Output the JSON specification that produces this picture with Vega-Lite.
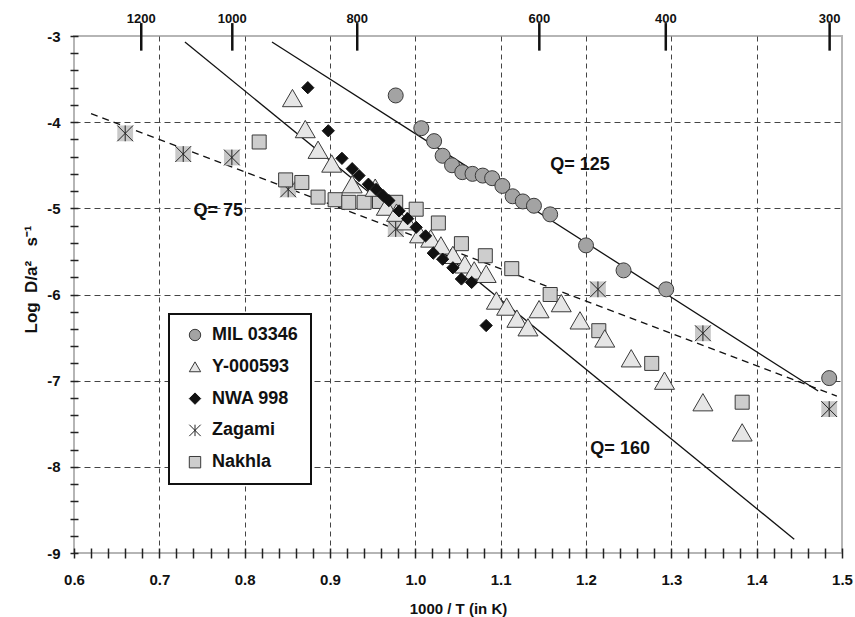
{
  "$schema": "https://vega.github.io/schema/vega-lite/v6.json",
  "width": 768,
  "height": 517,
  "autosize": {"type": "none"},
  "padding": {"left": 74, "top": 36, "right": 13, "bottom": 64},
  "config": {
    "font": "Liberation Sans",
    "view": {"stroke": "#b5b5b5", "strokeWidth": 2},
    "legend": {
      "fillColor": "white",
      "strokeColor": "#111",
      "strokeWidth": 2,
      "padding": 12,
      "symbolOffset": 5,
      "labelOffset": 8,
      "labelFontSize": 18,
      "labelFontWeight": "bold",
      "labelColor": "#111",
      "rowPadding": 13.8,
      "symbolSize": 130,
      "symbolStrokeWidth": 1
    }
  },
  "datasets": {
    "pts": [
      {"s": "MIL 03346", "x": 0.977, "y": -3.69},
      {"s": "MIL 03346", "x": 1.007, "y": -4.07},
      {"s": "MIL 03346", "x": 1.022, "y": -4.22},
      {"s": "MIL 03346", "x": 1.032, "y": -4.39},
      {"s": "MIL 03346", "x": 1.043, "y": -4.5},
      {"s": "MIL 03346", "x": 1.055, "y": -4.58},
      {"s": "MIL 03346", "x": 1.067, "y": -4.6},
      {"s": "MIL 03346", "x": 1.079, "y": -4.62},
      {"s": "MIL 03346", "x": 1.09, "y": -4.65},
      {"s": "MIL 03346", "x": 1.102, "y": -4.74},
      {"s": "MIL 03346", "x": 1.114, "y": -4.86},
      {"s": "MIL 03346", "x": 1.126, "y": -4.92},
      {"s": "MIL 03346", "x": 1.139, "y": -4.97},
      {"s": "MIL 03346", "x": 1.158, "y": -5.07},
      {"s": "MIL 03346", "x": 1.2, "y": -5.43},
      {"s": "MIL 03346", "x": 1.244, "y": -5.72},
      {"s": "MIL 03346", "x": 1.294, "y": -5.94},
      {"s": "MIL 03346", "x": 1.485, "y": -6.97},
      {"s": "Y-000593", "x": 0.856, "y": -3.72},
      {"s": "Y-000593", "x": 0.871, "y": -4.08},
      {"s": "Y-000593", "x": 0.886, "y": -4.32},
      {"s": "Y-000593", "x": 0.902, "y": -4.48},
      {"s": "Y-000593", "x": 0.926, "y": -4.72},
      {"s": "Y-000593", "x": 0.953, "y": -4.76},
      {"s": "Y-000593", "x": 0.966, "y": -4.98},
      {"s": "Y-000593", "x": 0.978, "y": -5.05},
      {"s": "Y-000593", "x": 0.99, "y": -5.15},
      {"s": "Y-000593", "x": 1.005, "y": -5.3},
      {"s": "Y-000593", "x": 1.018, "y": -5.35},
      {"s": "Y-000593", "x": 1.03, "y": -5.43},
      {"s": "Y-000593", "x": 1.044, "y": -5.54},
      {"s": "Y-000593", "x": 1.058, "y": -5.65},
      {"s": "Y-000593", "x": 1.069, "y": -5.72},
      {"s": "Y-000593", "x": 1.083, "y": -5.76},
      {"s": "Y-000593", "x": 1.095, "y": -6.07},
      {"s": "Y-000593", "x": 1.107, "y": -6.14},
      {"s": "Y-000593", "x": 1.119, "y": -6.28},
      {"s": "Y-000593", "x": 1.132, "y": -6.38},
      {"s": "Y-000593", "x": 1.145, "y": -6.17},
      {"s": "Y-000593", "x": 1.171, "y": -6.1},
      {"s": "Y-000593", "x": 1.193, "y": -6.3},
      {"s": "Y-000593", "x": 1.222, "y": -6.51},
      {"s": "Y-000593", "x": 1.253, "y": -6.74},
      {"s": "Y-000593", "x": 1.292, "y": -7.0},
      {"s": "Y-000593", "x": 1.337, "y": -7.25},
      {"s": "Y-000593", "x": 1.383, "y": -7.6},
      {"s": "NWA 998", "x": 0.874, "y": -3.6},
      {"s": "NWA 998", "x": 0.898, "y": -4.1},
      {"s": "NWA 998", "x": 0.914, "y": -4.42},
      {"s": "NWA 998", "x": 0.926, "y": -4.54},
      {"s": "NWA 998", "x": 0.934, "y": -4.62},
      {"s": "NWA 998", "x": 0.945, "y": -4.72},
      {"s": "NWA 998", "x": 0.954, "y": -4.78},
      {"s": "NWA 998", "x": 0.962, "y": -4.85},
      {"s": "NWA 998", "x": 0.969, "y": -4.91},
      {"s": "NWA 998", "x": 0.981, "y": -5.03},
      {"s": "NWA 998", "x": 0.991, "y": -5.12},
      {"s": "NWA 998", "x": 1.001, "y": -5.22},
      {"s": "NWA 998", "x": 1.012, "y": -5.32},
      {"s": "NWA 998", "x": 1.021, "y": -5.52},
      {"s": "NWA 998", "x": 1.032, "y": -5.59},
      {"s": "NWA 998", "x": 1.044, "y": -5.69},
      {"s": "NWA 998", "x": 1.054, "y": -5.82},
      {"s": "NWA 998", "x": 1.066, "y": -5.86},
      {"s": "NWA 998", "x": 1.083, "y": -6.36},
      {"s": "Zagami", "x": 0.66, "y": -4.13},
      {"s": "Zagami", "x": 0.728, "y": -4.37},
      {"s": "Zagami", "x": 0.785, "y": -4.41},
      {"s": "Zagami", "x": 0.851, "y": -4.78},
      {"s": "Zagami", "x": 0.977, "y": -5.24},
      {"s": "Zagami", "x": 1.214, "y": -5.94},
      {"s": "Zagami", "x": 1.337, "y": -6.45},
      {"s": "Zagami", "x": 1.485, "y": -7.33},
      {"s": "Nakhla", "x": 0.817, "y": -4.23},
      {"s": "Nakhla", "x": 0.848, "y": -4.67},
      {"s": "Nakhla", "x": 0.867, "y": -4.7},
      {"s": "Nakhla", "x": 0.886, "y": -4.87},
      {"s": "Nakhla", "x": 0.906, "y": -4.9},
      {"s": "Nakhla", "x": 0.922, "y": -4.93},
      {"s": "Nakhla", "x": 0.94, "y": -4.93},
      {"s": "Nakhla", "x": 0.958, "y": -4.92},
      {"s": "Nakhla", "x": 0.977, "y": -4.93},
      {"s": "Nakhla", "x": 1.001, "y": -5.01},
      {"s": "Nakhla", "x": 1.027, "y": -5.17},
      {"s": "Nakhla", "x": 1.054, "y": -5.41},
      {"s": "Nakhla", "x": 1.082, "y": -5.55},
      {"s": "Nakhla", "x": 1.113, "y": -5.7},
      {"s": "Nakhla", "x": 1.158, "y": -6.0},
      {"s": "Nakhla", "x": 1.215, "y": -6.42},
      {"s": "Nakhla", "x": 1.277, "y": -6.8},
      {"s": "Nakhla", "x": 1.383, "y": -7.25}
    ],
    "lines": [
      {"q": "Q125", "x": 0.832, "y": -3.07},
      {"q": "Q125", "x": 1.472, "y": -7.12},
      {"q": "Q160", "x": 0.73, "y": -3.07},
      {"q": "Q160", "x": 1.444, "y": -8.84},
      {"q": "Q75", "x": 0.62, "y": -3.9},
      {"q": "Q75", "x": 1.494, "y": -7.18}
    ],
    "qlabels": [
      {"x": 1.193, "y": -4.5, "t": "Q= 125"},
      {"x": 0.769, "y": -5.03, "t": "Q= 75"},
      {"x": 1.24, "y": -7.79, "t": "Q= 160"}
    ],
    "degc": [
      {"x": 0.6788, "label": "1200"},
      {"x": 0.7855, "label": "1000"},
      {"x": 0.9319, "label": "800"},
      {"x": 1.1453, "label": "600"},
      {"x": 1.2935, "label": "400"},
      {"x": 1.4855, "label": "300"}
    ]
  },
  "layer": [
    {
      "data": {"name": "lines"},
      "transform": [{"filter": "datum.q !== 'Q75'"}],
      "mark": {"type": "line", "color": "#111", "strokeWidth": 1.3},
      "encoding": {
        "x": {
          "field": "x", "type": "quantitative",
          "scale": {"domain": [0.6, 1.5], "nice": false, "zero": false},
          "axis": {
            "values": [0.6,0.62,0.64,0.66,0.68,0.7,0.72,0.74,0.76,0.78,0.8,0.82,0.84,0.86,0.88,0.9,0.92,0.94,0.96,0.98,1,1.02,1.04,1.06,1.08,1.1,1.12,1.14,1.16,1.18,1.2,1.22,1.24,1.26,1.28,1.3,1.32,1.34,1.36,1.38,1.4,1.42,1.44,1.46,1.48,1.5],
            "tickCount": 200,
            "labelExpr": "abs(datum.value*10 - round(datum.value*10)) < 0.001 ? format(datum.value, '.1f') : ''",
            "labelOverlap": false,
            "labelFlush": false,
            "labelFontSize": 15,
            "labelFontWeight": "bold",
            "labelColor": "#111",
            "labelPadding": 14,
            "domain": false,
            "offset": -5,
            "tickSize": 10,
            "tickWidth": 1.5,
            "tickColor": "#222",
            "grid": true,
            "gridColor": "#444",
            "gridWidth": 1,
            "gridDash": [5, 4],
            "gridOpacity": {"condition": {"test": "abs(datum.value*10 - round(datum.value*10)) < 0.001 && datum.value > 0.61 && datum.value < 1.49", "value": 1}, "value": 0},
            "title": "1000 / T  (in K)",
            "titleFontSize": 15,
            "titleFontWeight": "bold",
            "titleColor": "#111",
            "titleY": 60,
            "titleBaseline": "middle"
          }
        },
        "y": {
          "field": "y", "type": "quantitative",
          "scale": {"domain": [-9, -3], "nice": false, "zero": false},
          "axis": {
            "values": [-9,-8.8,-8.6,-8.4,-8.2,-8,-7.8,-7.6,-7.4,-7.2,-7,-6.8,-6.6,-6.4,-6.2,-6,-5.8,-5.6,-5.4,-5.2,-5,-4.8,-4.6,-4.4,-4.2,-4,-3.8,-3.6,-3.4,-3.2,-3],
            "tickCount": 200,
            "labelExpr": "abs(datum.value - round(datum.value)) < 0.001 ? '' + round(datum.value) : ''",
            "labelOverlap": false,
            "labelFlush": false,
            "labelFontSize": 15,
            "labelFontWeight": "bold",
            "labelColor": "#111",
            "labelPadding": 10,
            "domain": false,
            "offset": -4,
            "tickSize": 8,
            "tickWidth": 1.5,
            "tickColor": "#222",
            "grid": true,
            "gridColor": "#444",
            "gridWidth": 1,
            "gridDash": [6, 4],
            "gridOpacity": {"condition": {"test": "abs(datum.value - round(datum.value)) < 0.001 && datum.value > -8.99 && datum.value < -3.01", "value": 1}, "value": 0},
            "title": "Log\u00a0\u00a0D/a²\u00a0\u00a0\u00a0s⁻¹",
            "titleFontSize": 17,
            "titleFontWeight": "bold",
            "titleColor": "#111",
            "titleX": -47,
            "titleY": 243,
            "titleAngle": -90,
            "titleBaseline": "middle",
            "titleAlign": "center"
          }
        },
        "detail": {"field": "q"}
      }
    },
    {
      "data": {"name": "lines"},
      "transform": [{"filter": "datum.q === 'Q75'"}],
      "mark": {"type": "line", "color": "#111", "strokeWidth": 1.3, "strokeDash": [7, 5]},
      "encoding": {
        "x": {"field": "x", "type": "quantitative"},
        "y": {"field": "y", "type": "quantitative"}
      }
    },
    {
      "mark": {"type": "rule", "color": "#222", "strokeWidth": 2},
      "encoding": {"x": {"datum": 0.6}}
    },
    {
      "mark": {"type": "rule", "color": "#222", "strokeWidth": 2},
      "encoding": {"y": {"datum": -9}}
    },
    {
      "data": {"name": "degc"},
      "mark": {"type": "rule", "color": "#111", "strokeWidth": 2.5},
      "encoding": {
        "x": {"field": "x", "type": "quantitative"},
        "y": {"datum": -2.85},
        "y2": {"datum": -3.17}
      }
    },
    {
      "data": {"name": "degc"},
      "mark": {"type": "text", "fontSize": 13, "fontWeight": "bold", "color": "#111", "baseline": "middle"},
      "encoding": {
        "x": {"field": "x", "type": "quantitative"},
        "y": {"datum": -2.8},
        "text": {"field": "label"}
      }
    },
    {
      "mark": {"type": "text", "fontSize": 19, "fontWeight": "bold", "color": "#111", "baseline": "middle", "text": "Deg-C"},
      "encoding": {
        "x": {"datum": 1.06},
        "y": {"datum": -2.8}
      }
    },
    {
      "data": {"name": "qlabels"},
      "mark": {"type": "text", "fontSize": 18, "fontWeight": "bold", "color": "#111", "baseline": "middle"},
      "encoding": {
        "x": {"field": "x", "type": "quantitative"},
        "y": {"field": "y", "type": "quantitative"},
        "text": {"field": "t"}
      }
    },
    {
      "data": {"name": "pts"},
      "transform": [{"filter": "datum.s === 'Zagami'"}],
      "mark": {"type": "point", "shape": "square", "filled": true, "fill": "#c8c8c8", "strokeOpacity": 0, "size": 250, "opacity": 1},
      "encoding": {
        "x": {"field": "x", "type": "quantitative"},
        "y": {"field": "y", "type": "quantitative"}
      }
    },
    {
      "data": {"name": "pts"},
      "transform": [{"filter": "datum.s === 'Zagami'"}],
      "mark": {"type": "point", "filled": true, "strokeWidth": 1, "opacity": 1, "size": 250},
      "encoding": {
        "x": {"field": "x", "type": "quantitative"},
        "y": {"field": "y", "type": "quantitative"},
        "fill": {
          "field": "s", "type": "nominal",
          "scale": {"domain": ["MIL 03346", "Y-000593", "NWA 998", "Zagami", "Nakhla"], "range": ["#a3a3a3", "#e6e6e6", "#111111", "#c8c8c8", "#cdcdcd"]},
          "legend": {"title": null, "orient": "none", "legendX": 95, "legendY": 278, "labelExpr": "datum.label + '\u00a0\u00a0'"}
        },
        "stroke": {
          "field": "s", "type": "nominal",
          "scale": {"domain": ["MIL 03346", "Y-000593", "NWA 998", "Zagami", "Nakhla"], "range": ["#3a3a3a", "#3a3a3a", "#111111", "#222222", "#3a3a3a"]},
          "legend": {"title": null, "orient": "none", "legendX": 95, "legendY": 278, "labelExpr": "datum.label + '\u00a0\u00a0'"}
        },
        "shape": {
          "field": "s", "type": "nominal",
          "scale": {"domain": ["MIL 03346", "Y-000593", "NWA 998", "Zagami", "Nakhla"], "range": ["circle", "triangle-up", "diamond", "M-1,-1L1,1M-1,1L1,-1M0,-1L0,1", "square"]},
          "legend": {"title": null, "orient": "none", "legendX": 95, "legendY": 278, "labelExpr": "datum.label + '\u00a0\u00a0'"}
        }
      }
    },
    {
      "data": {"name": "pts"},
      "transform": [{"filter": "datum.s === 'Nakhla'"}],
      "mark": {"type": "point", "filled": true, "strokeWidth": 1, "opacity": 1, "size": 196},
      "encoding": {
        "x": {"field": "x", "type": "quantitative"},
        "y": {"field": "y", "type": "quantitative"},
        "fill": {"field": "s", "type": "nominal"},
        "stroke": {"field": "s", "type": "nominal"},
        "shape": {"field": "s", "type": "nominal"}
      }
    },
    {
      "data": {"name": "pts"},
      "transform": [{"filter": "datum.s === 'Y-000593'"}],
      "mark": {"type": "point", "filled": true, "strokeWidth": 1, "opacity": 1, "size": 400},
      "encoding": {
        "x": {"field": "x", "type": "quantitative"},
        "y": {"field": "y", "type": "quantitative"},
        "fill": {"field": "s", "type": "nominal"},
        "stroke": {"field": "s", "type": "nominal"},
        "shape": {"field": "s", "type": "nominal"}
      }
    },
    {
      "data": {"name": "pts"},
      "transform": [{"filter": "datum.s === 'NWA 998'"}],
      "mark": {"type": "point", "filled": true, "strokeWidth": 1, "opacity": 1, "size": 150},
      "encoding": {
        "x": {"field": "x", "type": "quantitative"},
        "y": {"field": "y", "type": "quantitative"},
        "fill": {"field": "s", "type": "nominal"},
        "stroke": {"field": "s", "type": "nominal"},
        "shape": {"field": "s", "type": "nominal"}
      }
    },
    {
      "data": {"name": "pts"},
      "transform": [{"filter": "datum.s === 'MIL 03346'"}],
      "mark": {"type": "point", "filled": true, "strokeWidth": 1, "opacity": 1, "size": 225},
      "encoding": {
        "x": {"field": "x", "type": "quantitative"},
        "y": {"field": "y", "type": "quantitative"},
        "fill": {"field": "s", "type": "nominal"},
        "stroke": {"field": "s", "type": "nominal"},
        "shape": {"field": "s", "type": "nominal"}
      }
    }
  ]
}
